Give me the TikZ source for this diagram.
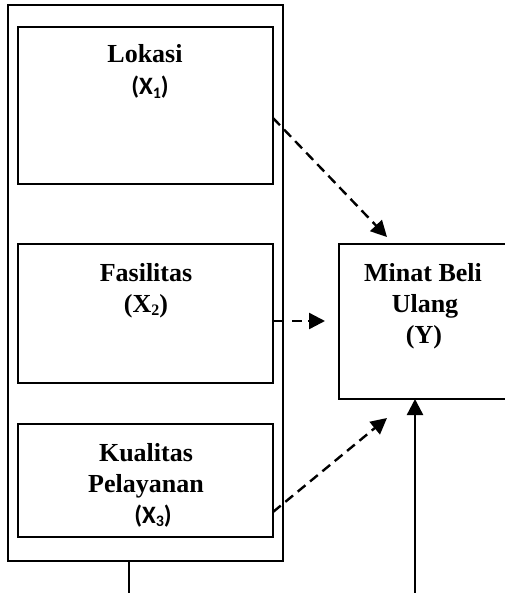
\documentclass[tikz,border=0pt]{standalone}
\usepackage{fontspec}
\setmainfont{Liberation Serif}
\newfontfamily\calfont{Carlito}
\usetikzlibrary{arrows.meta}
\tikzset{
  varbox/.style={draw, line width=2.4pt, minimum width=255pt, inner sep=0pt, outer sep=0pt},
  lbl/.style={anchor=base, inner sep=0pt, font=\fontsize{26}{31}\selectfont\bfseries},
  clbl/.style={anchor=base, inner sep=0pt, font=\fontsize{25}{31}\selectfont\calfont\bfseries},
  dasharrow/.style={line width=2.4pt, dash pattern=on 10pt off 6pt, -{Triangle[length=16pt,width=16pt]}},
  solidarrow/.style={line width=2.4pt, -{Triangle[length=16pt,width=16pt]}}
}
\newcommand{\csub}[1]{\raisebox{-0.15em}{\fontsize{16}{16}\selectfont #1}}
\begin{document}
\begin{tikzpicture}[x=1pt,y=-1pt]
\useasboundingbox (0,0) rectangle (504,593);
% outer frame
\draw[line width=1.8pt] (8,5) rectangle (283,561);
% boxes
\node[varbox, minimum height=157pt] (b1) at (145.5,105.5) {};
\node[varbox, minimum height=139pt] (b2) at (145.5,313.5) {};
\node[varbox, minimum height=113pt] (b3) at (145.5,480.5) {};
\node[draw, line width=2.4pt, minimum width=175pt, minimum height=155pt, inner sep=0pt, outer sep=0pt] (yb) at (426.5,321.5) {};
% texts
\node[lbl] (t1a) at (145,63) {Lokasi};
\node[clbl] (t1b) at (150,95) {(X\csub{1})};
\node[lbl] (t2a) at (146,281) {Fasilitas};
\node[lbl] (t2b) at (146,312) {(X\csub{2})};
\node[lbl] (t3a) at (146,461) {Kualitas};
\node[lbl] (t3b) at (146,492) {Pelayanan};
\node[clbl] (t3c) at (153,523) {(X\csub{3})};
\node[lbl] (tya) at (423,281) {Minat Beli};
\node[lbl] (tyb) at (425,312) {Ulang};
\node[lbl] (tyc) at (424,343) {(Y)};
% coordinates
\coordinate (a1s) at (273,118);
\coordinate (a1e) at (387,237);
\coordinate (a2a) at (273,321);
\coordinate (a2b) at (283,321);
\coordinate (a2s) at (292,321);
\coordinate (a2e) at (325,321);
\coordinate (a3s) at (273,512);
\coordinate (a3e) at (387,418);
\coordinate (vb) at (415,593);
\coordinate (vt) at (415,399);
\coordinate (lb) at (129,561);
\coordinate (lt) at (129,593);
% connectors
\draw[dasharrow] (a1s) -- (a1e);
\draw[line width=2.4pt] (a2a) -- (a2b);
\draw[dasharrow] (a2s) -- (a2e);
\draw[dasharrow] (a3s) -- (a3e);
\draw[solidarrow] (vb) -- (vt);
\draw[line width=1.8pt] (lb) -- (lt);
\end{tikzpicture}
\end{document}
